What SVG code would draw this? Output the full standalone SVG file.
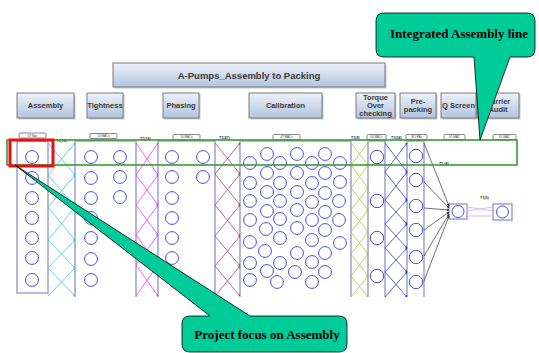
<svg xmlns="http://www.w3.org/2000/svg" width="539" height="353" viewBox="0 0 539 353">
  <defs>
    <linearGradient id="boxFill" x1="0" y1="0" x2="0" y2="1">
      <stop offset="0" stop-color="#eef2fa"/>
      <stop offset="1" stop-color="#b2c4df"/>
    </linearGradient>
    <marker id="mCyan" viewBox="0 0 6 6" refX="5" refY="3" markerWidth="3" markerHeight="3" orient="auto"><path d="M0,0 L6,3 L0,6 Z" fill="#3fc8f0"/></marker>
    <marker id="mMag" viewBox="0 0 6 6" refX="5" refY="3" markerWidth="3" markerHeight="3" orient="auto"><path d="M0,0 L6,3 L0,6 Z" fill="#f03cf0"/></marker>
    <marker id="mRose" viewBox="0 0 6 6" refX="5" refY="3" markerWidth="3" markerHeight="3" orient="auto"><path d="M0,0 L6,3 L0,6 Z" fill="#a84a78"/></marker>
    <marker id="mLime" viewBox="0 0 6 6" refX="5" refY="3" markerWidth="3" markerHeight="3" orient="auto"><path d="M0,0 L6,3 L0,6 Z" fill="#a0cc3c"/></marker>
    <marker id="mBlue" viewBox="0 0 6 6" refX="5" refY="3" markerWidth="3" markerHeight="3" orient="auto"><path d="M0,0 L6,3 L0,6 Z" fill="#3838e0"/></marker>
    <marker id="mGray" viewBox="0 0 6 6" refX="5" refY="3" markerWidth="4" markerHeight="4" orient="auto"><path d="M0,0 L6,3 L0,6 Z" fill="#333"/></marker>
  </defs>
  <style>
    .stage { fill: url(#boxFill); stroke: #7a7a7a; stroke-width: 1; }
    .shadow { fill: #c8c8c8; }
    .stxt { font-family: "Liberation Sans", Arial, sans-serif; font-weight: bold; font-size: 7.5px; fill: #3a3a3a; text-anchor: middle; }
    .title { font-size: 9.5px; }
    .col { fill: none; stroke: #a4a4d6; stroke-width: 1.6; }
    .st { fill: #fff; stroke: #4a4ae6; stroke-width: 1; }
    .tag { fill: #fff; stroke: #555; stroke-width: 0.7; }
    .tagtxt { font-family: "Liberation Sans", Arial, sans-serif; font-size: 3px; fill: #333; text-anchor: middle; }
    .ttxt { font-family: "Liberation Sans", Arial, sans-serif; font-size: 3.6px; font-weight: bold; fill: #333; }
    .cyan { stroke: #3fc8f0; stroke-width: 0.8; marker-end: url(#mCyan); }
    .mag { stroke: #f03cf0; stroke-width: 0.8; marker-end: url(#mMag); }
    .rose { stroke: #a84a78; stroke-width: 0.8; marker-end: url(#mRose); }
    .lime { stroke: #a0cc3c; stroke-width: 0.8; marker-end: url(#mLime); }
    .blue { stroke: #3838e0; stroke-width: 0.8; marker-end: url(#mBlue); }
    .gray { stroke: #333; stroke-width: 0.7; marker-end: url(#mGray); }
    .violet { stroke: #d6a6f0; stroke-width: 0.8; }
    .callout { fill: #00cc99; stroke: #000; stroke-width: 0.8; }
    .ctxt { font-family: "Liberation Serif", "Times New Roman", serif; font-weight: bold; font-size: 13px; fill: #000; text-anchor: middle; }
  </style>

  <rect width="539" height="353" fill="#fff"/>

  <!-- line title -->
  <g id="title">
    <rect class="shadow" x="114.5" y="64.5" width="272" height="24"/>
    <rect class="stage" x="113" y="63" width="272" height="24"/>
    <text class="stxt title" x="249" y="78.5">A-Pumps_Assembly to Packing</text>
  </g>

  <!-- stage headers -->
  <g id="hdr-assembly">
    <rect class="shadow" x="18.5" y="94.5" width="57" height="25"/>
    <rect class="stage" x="17" y="93" width="57" height="25"/>
    <text class="stxt" x="45.5" y="108">Assembly</text>
  </g>
  <g id="hdr-tightness">
    <rect class="shadow" x="88.5" y="94.5" width="36" height="25"/>
    <rect class="stage" x="87" y="93" width="36" height="25"/>
    <text class="stxt" x="105" y="108">Tightness</text>
  </g>
  <g id="hdr-phasing">
    <rect class="shadow" x="164.5" y="94.5" width="36" height="25"/>
    <rect class="stage" x="163" y="93" width="36" height="25"/>
    <text class="stxt" x="181" y="108">Phasing</text>
  </g>
  <g id="hdr-calibration">
    <rect class="shadow" x="250.5" y="94.5" width="73" height="25"/>
    <rect class="stage" x="249" y="93" width="73" height="25"/>
    <text class="stxt" x="285.5" y="108">Calibration</text>
  </g>
  <g id="hdr-torque">
    <rect class="shadow" x="357.5" y="94.5" width="39" height="25"/>
    <rect class="stage" x="356" y="93" width="39" height="25"/>
    <text class="stxt" x="375.5" y="99.5">Torque</text>
    <text class="stxt" x="375.5" y="107.5">Over</text>
    <text class="stxt" x="375.5" y="115.5">checking</text>
  </g>
  <g id="hdr-prepacking">
    <rect class="shadow" x="401.5" y="94.5" width="36" height="25"/>
    <rect class="stage" x="400" y="93" width="36" height="25"/>
    <text class="stxt" x="418" y="103.5">Pre-</text>
    <text class="stxt" x="418" y="112">packing</text>
  </g>
  <g id="hdr-qscreen">
    <rect class="shadow" x="442.5" y="94.5" width="35" height="25"/>
    <rect class="stage" x="441" y="93" width="35" height="25"/>
    <text class="stxt" x="458.5" y="108">Q Screen</text>
  </g>
  <g id="hdr-carrier">
    <rect class="shadow" x="478.5" y="94.5" width="42" height="25"/>
    <rect class="stage" x="477" y="93" width="42" height="25"/>
    <text class="stxt" x="498" y="103.5">Carrier</text>
    <text class="stxt" x="498" y="112">Audit</text>
  </g>

  <!-- station count tags -->
  <g id="tags">
    <rect class="tag" x="19" y="133" width="27" height="5" rx="1"/><text class="tagtxt" x="32.5" y="136.8">07 Nos</text>
    <rect class="tag" x="90" y="133.5" width="27" height="5" rx="1"/><text class="tagtxt" x="103.5" y="137.3">10 MACs</text>
    <rect class="tag" x="173" y="134.5" width="27" height="5" rx="1"/><text class="tagtxt" x="186.5" y="138.3">10 MACs</text>
    <rect class="tag" x="273" y="134.5" width="27" height="5" rx="1"/><text class="tagtxt" x="286.5" y="138.3">47 MACs</text>
    <rect class="tag" x="367" y="134.5" width="19" height="5" rx="1"/><text class="tagtxt" x="376.5" y="138.3">04 MACs</text>
    <rect class="tag" x="406" y="134.5" width="21" height="5" rx="1"/><text class="tagtxt" x="416.5" y="138.3">06 LPAs</text>
    <rect class="tag" x="444" y="134.5" width="21" height="5" rx="1"/><text class="tagtxt" x="454.5" y="138.3">01 MAC</text>
    <rect class="tag" x="493" y="134.5" width="23" height="5" rx="1"/><text class="tagtxt" x="504.5" y="138.3">01 MAC</text>
  </g>

  <!-- station columns -->
  <g id="assembly">
    <rect class="col" x="17" y="141" width="31" height="152"/>
    <circle class="st" cx="32" cy="157" r="6.4"/>
    <circle class="st" cx="32" cy="178" r="6.4"/>
    <circle class="st" cx="32" cy="198" r="6.4"/>
    <circle class="st" cx="32" cy="218" r="6.4"/>
    <circle class="st" cx="32" cy="238" r="6.4"/>
    <circle class="st" cx="32" cy="258" r="6.4"/>
    <circle class="st" cx="32" cy="280" r="6.4"/>
  </g>
  <g id="tightness">
    <path class="col" d="M75,297 V141 H136 V297"/>
    <circle class="st" cx="91" cy="157" r="6.4"/>
    <circle class="st" cx="91" cy="178" r="6.4"/>
    <circle class="st" cx="91" cy="198" r="6.4"/>
    <circle class="st" cx="91" cy="218" r="6.4"/>
    <circle class="st" cx="91" cy="238" r="6.4"/>
    <circle class="st" cx="91" cy="259" r="6.4"/>
    <circle class="st" cx="91" cy="280" r="6.4"/>
    <circle class="st" cx="120" cy="157" r="6.4"/>
    <circle class="st" cx="120" cy="177" r="6.4"/>
    <circle class="st" cx="120" cy="197" r="6.4"/>
  </g>
  <g id="phasing">
    <path class="col" d="M158,297 V141 H215 V297"/>
    <circle class="st" cx="172" cy="157" r="6.4"/>
    <circle class="st" cx="172" cy="177" r="6.4"/>
    <circle class="st" cx="172" cy="198" r="6.4"/>
    <circle class="st" cx="172" cy="218" r="6.4"/>
    <circle class="st" cx="172" cy="238" r="6.4"/>
    <circle class="st" cx="172" cy="258" r="6.4"/>
    <circle class="st" cx="203" cy="157" r="6.4"/>
    <circle class="st" cx="203" cy="177" r="6.4"/>
  </g>
  <g id="calibration">
    <path class="col" d="M240,297 V141 H351 V297"/>
    <g class="st">
      <circle cx="267" cy="154" r="6.4"/><circle cx="297" cy="154" r="6.4"/><circle cx="325" cy="154" r="6.4"/>
      <circle cx="250" cy="163" r="6.4"/><circle cx="280" cy="163" r="6.4"/><circle cx="312" cy="163" r="6.4"/><circle cx="340" cy="163" r="6.4"/>
      <circle cx="267" cy="173" r="6.4"/><circle cx="297" cy="173" r="6.4"/><circle cx="325" cy="173" r="6.4"/>
      <circle cx="250" cy="183" r="6.4"/><circle cx="280" cy="183" r="6.4"/><circle cx="312" cy="183" r="6.4"/><circle cx="340" cy="182" r="6.4"/>
      <circle cx="267" cy="192" r="6.4"/><circle cx="297" cy="192" r="6.4"/><circle cx="325" cy="193" r="6.4"/>
      <circle cx="250" cy="201" r="6.4"/><circle cx="280" cy="201" r="6.4"/><circle cx="312" cy="202" r="6.4"/><circle cx="339" cy="201" r="6.4"/>
      <circle cx="267" cy="211" r="6.4"/><circle cx="297" cy="210" r="6.4"/><circle cx="325" cy="212" r="6.4"/>
      <circle cx="250" cy="220" r="6.4"/><circle cx="280" cy="219" r="6.4"/><circle cx="312" cy="220" r="6.4"/><circle cx="339" cy="220" r="6.4"/>
      <circle cx="266" cy="229" r="6.4"/><circle cx="297" cy="228" r="6.4"/><circle cx="325" cy="230" r="6.4"/>
      <circle cx="250" cy="242" r="6.4"/><circle cx="280" cy="238" r="6.4"/><circle cx="312" cy="240" r="6.4"/><circle cx="340" cy="243" r="6.4"/>
      <circle cx="265" cy="251" r="6.4"/><circle cx="297" cy="253" r="6.4"/><circle cx="325" cy="253" r="6.4"/>
      <circle cx="250" cy="263" r="6.4"/><circle cx="280" cy="263" r="6.4"/><circle cx="312" cy="262" r="6.4"/>
      <circle cx="267" cy="271" r="6.4"/><circle cx="295" cy="272" r="6.4"/><circle cx="325" cy="272" r="6.4"/>
      <circle cx="250" cy="280" r="6.4"/><circle cx="277" cy="282" r="6.4"/><circle cx="312" cy="282" r="6.4"/>
    </g>
  </g>
  <g id="torque">
    <path class="col" d="M368,297 V141 H385 V297"/>
    <circle class="st" cx="377" cy="157" r="6.7"/>
    <circle class="st" cx="377" cy="201" r="6.7"/>
    <circle class="st" cx="377" cy="238" r="6.7"/>
    <circle class="st" cx="377" cy="276" r="6.7"/>
  </g>
  <g id="prepacking">
    <path class="col" d="M407,297 V141 H424 V297"/>
    <circle class="st" cx="416" cy="156" r="6.7"/>
    <circle class="st" cx="416" cy="180" r="6.7"/>
    <circle class="st" cx="416" cy="206" r="6.7"/>
    <circle class="st" cx="416" cy="230" r="6.7"/>
    <circle class="st" cx="416" cy="257" r="6.7"/>
    <circle class="st" cx="416" cy="282" r="6.7"/>
  </g>
  <g id="qscreen">
    <rect class="col" x="449" y="204" width="18" height="15" fill="#fff"/>
    <circle class="st" cx="458" cy="211.5" r="6"/>
  </g>
  <g id="carrier">
    <rect class="col" x="493" y="204" width="19" height="16" fill="#fff"/>
    <circle class="st" cx="502.5" cy="212" r="6"/>
  </g>

  <!-- transfer links between stations -->
  <g id="connectors">
    <line class="cyan" x1="48" y1="143" x2="75" y2="175"/><line class="cyan" x1="48" y1="175" x2="75" y2="143"/>
    <line class="cyan" x1="48" y1="175" x2="75" y2="207"/><line class="cyan" x1="48" y1="207" x2="75" y2="175"/>
    <line class="cyan" x1="48" y1="207" x2="75" y2="240"/><line class="cyan" x1="48" y1="240" x2="75" y2="207"/>
    <line class="cyan" x1="48" y1="240" x2="75" y2="268"/><line class="cyan" x1="48" y1="268" x2="75" y2="240"/>
    <line class="cyan" x1="48" y1="268" x2="75" y2="296"/><line class="cyan" x1="48" y1="296" x2="75" y2="268"/>

    <line class="mag" x1="136" y1="143" x2="158" y2="175"/><line class="mag" x1="136" y1="175" x2="158" y2="143"/>
    <line class="mag" x1="136" y1="175" x2="158" y2="205"/><line class="mag" x1="136" y1="205" x2="158" y2="175"/>
    <line class="mag" x1="136" y1="205" x2="158" y2="235"/><line class="mag" x1="136" y1="235" x2="158" y2="205"/>
    <line class="mag" x1="136" y1="235" x2="158" y2="265"/><line class="mag" x1="136" y1="265" x2="158" y2="235"/>
    <line class="mag" x1="136" y1="265" x2="158" y2="296"/><line class="mag" x1="136" y1="296" x2="158" y2="265"/>

    <line class="rose" x1="215" y1="143" x2="240" y2="174"/><line class="rose" x1="215" y1="174" x2="240" y2="143"/>
    <line class="rose" x1="215" y1="174" x2="240" y2="205"/><line class="rose" x1="215" y1="205" x2="240" y2="174"/>
    <line class="rose" x1="215" y1="205" x2="240" y2="236"/><line class="rose" x1="215" y1="236" x2="240" y2="205"/>
    <line class="rose" x1="215" y1="236" x2="240" y2="266"/><line class="rose" x1="215" y1="266" x2="240" y2="236"/>
    <line class="rose" x1="215" y1="266" x2="240" y2="296"/><line class="rose" x1="215" y1="296" x2="240" y2="266"/>

    <line class="lime" x1="351" y1="143" x2="368" y2="165"/><line class="lime" x1="351" y1="165" x2="368" y2="143"/>
    <line class="lime" x1="351" y1="165" x2="368" y2="188"/><line class="lime" x1="351" y1="188" x2="368" y2="165"/>
    <line class="lime" x1="351" y1="188" x2="368" y2="210"/><line class="lime" x1="351" y1="210" x2="368" y2="188"/>
    <line class="lime" x1="351" y1="210" x2="368" y2="232"/><line class="lime" x1="351" y1="232" x2="368" y2="210"/>
    <line class="lime" x1="351" y1="232" x2="368" y2="254"/><line class="lime" x1="351" y1="254" x2="368" y2="232"/>
    <line class="lime" x1="351" y1="254" x2="368" y2="276"/><line class="lime" x1="351" y1="276" x2="368" y2="254"/>
    <line class="lime" x1="351" y1="276" x2="368" y2="297"/><line class="lime" x1="351" y1="297" x2="368" y2="276"/>

    <line class="blue" x1="385" y1="143" x2="407" y2="172"/><line class="blue" x1="385" y1="172" x2="407" y2="143"/>
    <line class="blue" x1="385" y1="172" x2="407" y2="200"/><line class="blue" x1="385" y1="200" x2="407" y2="172"/>
    <line class="blue" x1="385" y1="200" x2="407" y2="224"/><line class="blue" x1="385" y1="224" x2="407" y2="200"/>
    <line class="blue" x1="385" y1="224" x2="407" y2="248"/><line class="blue" x1="385" y1="248" x2="407" y2="224"/>
    <line class="blue" x1="385" y1="248" x2="407" y2="272"/><line class="blue" x1="385" y1="272" x2="407" y2="248"/>
    <line class="blue" x1="385" y1="272" x2="407" y2="297"/><line class="blue" x1="385" y1="297" x2="407" y2="272"/>

    <line class="gray" x1="424" y1="143" x2="449" y2="206"/>
    <line class="gray" x1="424" y1="182" x2="449" y2="208"/>
    <line class="gray" x1="424" y1="208" x2="449" y2="210"/>
    <line class="gray" x1="424" y1="230" x2="449" y2="212"/>
    <line class="gray" x1="424" y1="256" x2="449" y2="214"/>
    <line class="gray" x1="424" y1="281" x2="449" y2="216"/>

    <line class="violet" x1="467" y1="207" x2="493" y2="211"/>
    <line class="violet" x1="467" y1="211" x2="493" y2="207"/>
    <line class="violet" x1="467" y1="216" x2="493" y2="216"/>
  </g>

  <!-- transfer counts -->
  <g id="link-labels">
    <text class="ttxt" x="56" y="141.5">T1(18)</text>
    <text class="ttxt" x="140" y="140">T1(18)</text>
    <text class="ttxt" x="219" y="139">T1(47)</text>
    <text class="ttxt" x="351" y="138.5">T1(8)</text>
    <text class="ttxt" x="391" y="138.5">T1(24)</text>
    <text class="ttxt" x="439" y="164.5">T1 (8)</text>
    <text class="ttxt" x="480" y="198.5">T1(5)</text>
  </g>

  <!-- highlight frames -->
  <g id="integrated-line">
    <rect x="7" y="140" width="510" height="25" fill="none" stroke="#3a9a3a" stroke-width="1.6"/>
  </g>
  <g id="assembly-focus">
    <rect x="10" y="140" width="43" height="26" fill="none" stroke="#e81010" stroke-width="3"/>
  </g>

  <!-- callouts -->
  <g id="callout-integrated">
    <path class="callout" d="M384,13 H527 Q535,13 535,21 V49 Q535,57 527,57 H510 L480,140 L474,57 H384 Q376,57 376,49 V21 Q376,13 384,13 Z"/>
    <text class="ctxt" x="459" y="38">Integrated Assembly line</text>
  </g>
  <g id="callout-focus">
    <path class="callout" d="M190,316 H210 L15,165 L250,316 H339 Q347,316 347,324 V344 Q347,352 339,352 H190 Q182,352 182,344 V324 Q182,316 190,316 Z"/>
    <text class="ctxt" x="267" y="338.5">Project focus on Assembly</text>
  </g>
</svg>
